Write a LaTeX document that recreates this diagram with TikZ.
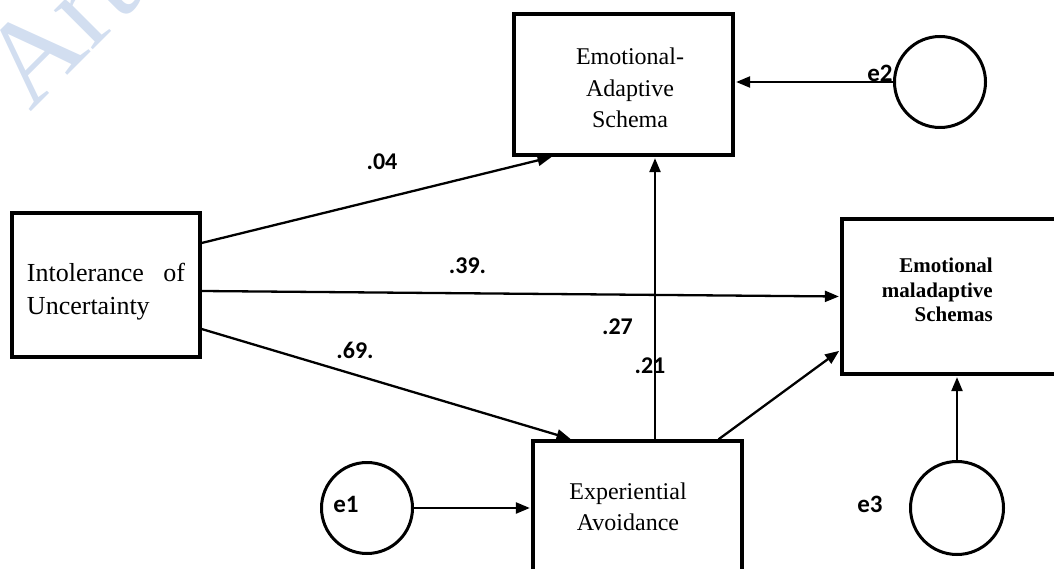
\documentclass[tikz,border=0pt]{standalone}
\usepackage{fontspec}
\setmainfont{Liberation Serif}
\newfontfamily\calibri{Carlito}
\usetikzlibrary{arrows.meta}
\definecolor{wm}{RGB}{210,222,240}
\begin{document}
\begin{tikzpicture}[x=1pt,y=-1pt,
  box/.style={draw, line width=3.3pt, inner sep=0pt},
  boxtext/.style={inner sep=0pt, align=center, font=\fontsize{24}{31.5}\selectfont},
  err/.style={draw, circle, line width=3pt, minimum size=91pt, inner sep=0pt},
  conn/.style={line width=2.3pt, -{Triangle[length=14pt,width=11pt]}, shorten >=1.5pt},
  coef/.style={font=\calibri\bfseries\fontsize{24}{28}\selectfont, inner sep=0pt, anchor=base},
  elab/.style={font=\calibri\bfseries\fontsize{25}{30}\selectfont, inner sep=0pt, anchor=base},
  ]
\useasboundingbox (0,0) rectangle (1054,569);
\clip (0,0) rectangle (1054,569);

% watermark
\node[rotate=45, anchor=base west, text=wm, font=\fontsize{120}{120}\selectfont, inner sep=0pt] (wmark) at (30,113) {Art};

% boxes
\node[box, minimum width=219pt, minimum height=141pt] (EAS) at (623.5,84.5) {};
\node[boxtext] (EAStext) at (630,88) {Emotional-\\Adaptive\\Schema};
\node[box, minimum width=188pt, minimum height=144pt] (IU) at (106,285) {};
\node[inner sep=0pt, text width=158pt, align=left, font=\fontsize{26}{33}\selectfont] (IUtext) at (106,292) {Intolerance\hfill of\\Uncertainty};
\node[box, minimum width=230pt, minimum height=155pt] (EMS) at (957,296.5) {};
\node[font=\bfseries\fontsize{21}{24.5}\selectfont, align=right, inner sep=0pt, anchor=east] (EMStext) at (993,290) {Emotional\\maladaptive\\Schemas};
\node[box, minimum width=209pt, minimum height=132pt] (EA) at (637.5,507) {};
\node[boxtext] (EAtext) at (628,507) {Experiential\\Avoidance};

% error terms
\node[err] (e1) at (367,508) {};
\node[err] (e2) at (940,82) {};
\node[err, minimum size=93pt] (e3) at (957,508) {};

% connectors
\draw[conn] ([yshift=42pt]IU.east) -- ([xshift=-70.5pt]EAS.south);
\draw[conn] ([yshift=-6pt]IU.east) -- (EMS.west);
\draw[conn] ([yshift=-44pt]IU.east) -- ([xshift=-65.5pt]EA.north);
\draw[conn] ([xshift=17.5pt]EA.north) -- ([xshift=17.5pt]EA.north |- EAS.south);
\draw[conn] ([xshift=81pt]EA.north) -- ([yshift=-53.5pt]EMS.west);
\draw[conn] (e1.east) -- (e1.east -| EA.west);
\draw[conn] (e2.west) -- (e2.west -| EAS.east);
\draw[conn] (e3.north) -- (e3.north |- EMS.south);

% labels
\node[elab] (e1lab) at (346,512) {e1};
\node[elab] (e2lab) at (880,82) {e2};
\node[elab] (e3lab) at (870,512) {e3};
\node[coef] (c04) at (382,170) {.04};
\node[coef] (c39) at (467.5,273) {.39.};
\node[coef] (c27) at (617.5,334) {.27};
\node[coef] (c21) at (650,373) {.21};
\node[coef] (c69) at (355,358) {.69.};
\end{tikzpicture}
\end{document}
